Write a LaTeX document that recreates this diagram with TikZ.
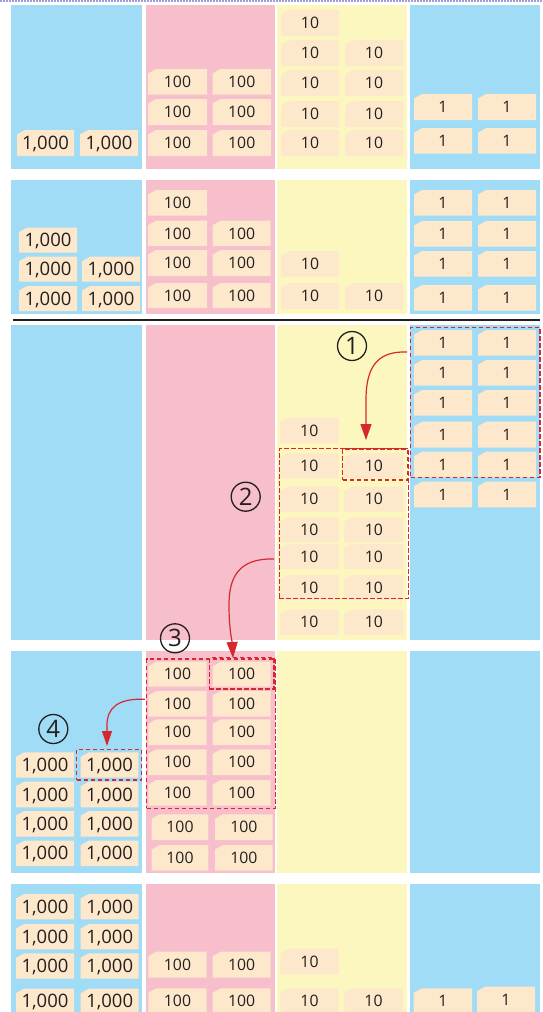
\documentclass[tikz,border=0pt]{standalone}
\usepackage{fontspec}
\setmainfont{Open Sans}
\usetikzlibrary{arrows.meta}
\definecolor{bluebg}{HTML}{A0DCF6}
\definecolor{pinkbg}{HTML}{F7BECC}
\definecolor{yellowbg}{HTML}{FCF7BE}
\definecolor{cardc}{HTML}{FDE8CC}
\definecolor{ink}{HTML}{231F20}
\definecolor{redc}{HTML}{D7282F}
\definecolor{lav}{HTML}{9E9EDB}
\tikzset{
  thfont/.style={font=\fontsize{18.5}{18.5}\selectfont, text height=13.2pt},
  smfont/.style={font=\fontsize{15.8}{15.8}\selectfont, text height=11.3pt},
  cardlabel/.style={inner sep=0pt, text depth=0pt, text=ink},
  selbox/.style={draw=redc, line width=1.2pt, dash pattern=on 4.5pt off 2.5pt, inner sep=0pt},
  carry/.style={draw=redc, line width=1.2pt, -{Triangle[length=16pt,width=11pt]}},
  circnum/.style={circle, draw=ink, line width=1.3pt, minimum size=29pt, inner sep=0pt, text=ink, font=\fontsize{24}{24}\selectfont},
  panelsep/.style={draw=ink, line width=2.5pt},
  topline/.style={draw=lav, line width=1.2pt, dash pattern=on 1.5pt off 1.5pt}
}
% #1 style, #2 name, #3 x1, #4 y1, #5 x2, #6 y2, #7 text
\newcommand\mycard[7][smfont]{%
  \fill[cardc] (#3,{#4+4.5}) -- ({#3+8},#4) -- (#5,#4) -- (#5,#6) -- (#3,#6) -- cycle;
  \node[cardlabel,#1] (#2) at ({(#3+#5)/2},{(#4+#6)/2}) {#7};
}
% column backgrounds: #1 top, #2 bottom
\newcommand\mypanel[2]{%
  \fill[bluebg] (11,#1) rectangle (142,#2);
  \fill[pinkbg] (145.7,#1) rectangle (275,#2);
  \fill[yellowbg] (277.3,#1) rectangle (406.8,#2);
  \fill[bluebg] (410,#1) rectangle (540,#2);
}
\begin{document}
\begin{tikzpicture}[x=1pt,y=-1pt]
\useasboundingbox (0,0) rectangle (543,1012);
\clip (0,0) rectangle (543,1012);
\fill[white] (0,0) rectangle (543,1012);
\draw[topline] (0,1) -- (543,1);

% ---------- panel 1 ----------
\mypanel{5}{169}
\mycard[thfont]{p1ta}{17}{130}{74}{156}{1,000}
\mycard[thfont]{p1tb}{80}{130}{138}{156}{1,000}
\mycard{p1h1}{148}{69}{207}{94.5}{100}
\mycard{p1h2}{212.5}{69}{271}{94.5}{100}
\mycard{p1h3}{148}{99}{207}{125}{100}
\mycard{p1h4}{212.5}{99}{271}{125}{100}
\mycard{p1h5}{148}{130}{207}{156}{100}
\mycard{p1h6}{212.5}{130}{271}{156}{100}
\mycard{p1d1}{281}{10}{339}{36}{10}
\mycard{p1d2}{281}{40}{339}{66}{10}
\mycard{p1d3}{345}{40}{403}{66}{10}
\mycard{p1d4}{281}{70}{339}{96}{10}
\mycard{p1d5}{345}{70}{403}{96}{10}
\mycard{p1d6}{281}{101}{339}{127}{10}
\mycard{p1d7}{345}{101}{403}{127}{10}
\mycard{p1d8}{281}{130}{339}{156}{10}
\mycard{p1d9}{345}{130}{403}{156}{10}
\mycard{p1o1}{414}{94}{472}{120}{1}
\mycard{p1o2}{478}{94}{536}{120}{1}
\mycard{p1o3}{414}{128}{472}{153.5}{1}
\mycard{p1o4}{478}{128}{536}{153.5}{1}

% ---------- panel 2 ----------
\mypanel{180}{314}
\mycard[thfont]{p2t1}{19}{227.5}{77}{252.5}{1,000}
\mycard[thfont]{p2t2}{19}{256.7}{77}{281.7}{1,000}
\mycard[thfont]{p2t3}{82}{256.7}{140}{281.7}{1,000}
\mycard[thfont]{p2t4}{19}{286}{77}{311}{1,000}
\mycard[thfont]{p2t5}{82}{286}{140}{311}{1,000}
\mycard{p2h1}{148}{190}{207}{215.7}{100}
\mycard{p2h2}{148}{220.7}{207}{246}{100}
\mycard{p2h3}{212.7}{220.7}{270.7}{246}{100}
\mycard{p2h4}{148}{250}{207}{276}{100}
\mycard{p2h5}{212.7}{250}{270.7}{276}{100}
\mycard{p2h6}{148}{283}{207}{308}{100}
\mycard{p2h7}{212.7}{283}{270.7}{308}{100}
\mycard{p2d1}{281}{251}{339}{276.7}{10}
\mycard{p2d2}{281}{283}{339}{309}{10}
\mycard{p2d3}{345}{283}{403}{309}{10}
\mycard{p2o1}{414}{190}{472}{215.7}{1}
\mycard{p2o2}{478}{190}{536}{215.7}{1}
\mycard{p2o3}{414}{221}{472}{246.7}{1}
\mycard{p2o4}{478}{221}{536}{246.7}{1}
\mycard{p2o5}{414}{251}{472}{276.7}{1}
\mycard{p2o6}{478}{251}{536}{276.7}{1}
\mycard{p2o7}{414}{285}{472}{310.7}{1}
\mycard{p2o8}{478}{285}{536}{310.7}{1}

\coordinate (sepL) at (13,320);
\coordinate (sepR) at (539.5,320);
\draw[panelsep] (sepL) -- (sepR);

% ---------- panel 3 ----------
\mypanel{325}{640}
\mycard{p3d1}{280}{417.7}{338.5}{443.3}{10}
\mycard{p3d2}{280}{453.3}{338.5}{478.3}{10}
\mycard{p3d3}{344.3}{453.3}{403.3}{478.3}{10}
\mycard{p3d4}{280}{486.7}{338.5}{511.7}{10}
\mycard{p3d5}{344.3}{486.7}{403.3}{511.7}{10}
\mycard{p3d6}{280}{517.3}{338.5}{542.3}{10}
\mycard{p3d7}{344.3}{517.3}{403.3}{542.3}{10}
\mycard{p3d8}{280}{544}{338.5}{569}{10}
\mycard{p3d9}{344.3}{544}{403.3}{569}{10}
\mycard{p3d10}{280}{575}{338.5}{600}{10}
\mycard{p3d11}{344.3}{575}{403.3}{600}{10}
\mycard{p3d12}{280}{609.3}{338.5}{635}{10}
\mycard{p3d13}{344.3}{609.3}{403.3}{635}{10}
\mycard{p3o1}{414}{330}{472}{355.7}{1}
\mycard{p3o2}{478}{330}{536}{355.7}{1}
\mycard{p3o3}{414}{360}{472}{385.7}{1}
\mycard{p3o4}{478}{360}{536}{385.7}{1}
\mycard{p3o5}{414}{390}{472}{415.7}{1}
\mycard{p3o6}{478}{390}{536}{415.7}{1}
\mycard{p3o7}{414}{421.7}{472}{447.7}{1}
\mycard{p3o8}{478}{421.7}{536}{447.7}{1}
\mycard{p3o9}{414}{451.7}{472}{477.3}{1}
\mycard{p3o10}{478}{451.7}{536}{477.3}{1}
\mycard{p3o11}{414}{481.7}{472}{507.3}{1}
\mycard{p3o12}{478}{481.7}{536}{507.3}{1}

\node[selbox, minimum width=129.3pt, minimum height=150pt] (box1) at (475.35,402.3) {};
\node[selbox, minimum width=65pt, minimum height=31pt] (tbox) at (375.2,464.5) {};
\node[selbox, minimum width=129pt, minimum height=150.2pt] (box2) at (343.8,523.4) {};

\node[circnum] (c1) at (352,346) {1};
\node[circnum] (c2) at (245.7,496.7) {2};

% ---------- panel 4 ----------
\mypanel{651}{872.5}
\mycard[thfont]{p4t1}{16}{752.3}{74}{777.7}{1,000}
\mycard[thfont]{p4t2}{80.7}{752.3}{138.3}{777.7}{1,000}
\mycard[thfont]{p4t3}{16}{781.7}{74}{807.3}{1,000}
\mycard[thfont]{p4t4}{80.7}{781.7}{138.3}{807.3}{1,000}
\mycard[thfont]{p4t5}{16}{811}{74}{836.7}{1,000}
\mycard[thfont]{p4t6}{80.7}{811}{138.3}{836.7}{1,000}
\mycard[thfont]{p4t7}{16}{840.7}{74}{866}{1,000}
\mycard[thfont]{p4t8}{80.7}{840.7}{138.3}{866}{1,000}
\mycard{p4h1}{148.3}{661.7}{206.7}{686.7}{100}
\mycard{p4h2}{212.7}{661.7}{270.7}{686.7}{100}
\mycard{p4h3}{148.3}{691}{206.7}{716.7}{100}
\mycard{p4h4}{212.7}{691}{270.7}{716.7}{100}
\mycard{p4h5}{148.3}{719.3}{206.7}{745}{100}
\mycard{p4h6}{212.7}{719.3}{270.7}{745}{100}
\mycard{p4h7}{148.3}{749.3}{206.7}{775}{100}
\mycard{p4h8}{212.7}{749.3}{270.7}{775}{100}
\mycard{p4h9}{148.3}{780}{206.7}{805.7}{100}
\mycard{p4h10}{212.7}{780}{270.7}{805.7}{100}
\mycard{p4h11}{151.7}{814.3}{208.3}{840}{100}
\mycard{p4h12}{215}{814.3}{272.7}{840}{100}
\mycard{p4h13}{151.7}{845}{208.3}{870.7}{100}
\mycard{p4h14}{215}{845}{272.7}{870.7}{100}

\node[selbox, minimum width=128.6pt, minimum height=149.3pt] (box3) at (211,733.65) {};
\node[selbox, minimum width=64.7pt, minimum height=31.3pt] (hbox) at (241.65,673.35) {};
\node[selbox, minimum width=65pt, minimum height=30.7pt] (kbox) at (109.2,764.65) {};

\node[circnum] (c3) at (175,638.3) {3};
\node[circnum] (c4) at (53.3,729) {4};

% ---------- panel 5 ----------
\mypanel{883.5}{1012}
\mycard[thfont]{p5t1}{16}{894}{74}{919.3}{1,000}
\mycard[thfont]{p5t2}{80.7}{894}{138.7}{919.3}{1,000}
\mycard[thfont]{p5t3}{16}{924}{74}{949.3}{1,000}
\mycard[thfont]{p5t4}{80.7}{924}{138.7}{949.3}{1,000}
\mycard[thfont]{p5t5}{16}{953.3}{74}{978.7}{1,000}
\mycard[thfont]{p5t6}{80.7}{953.3}{138.7}{978.7}{1,000}
\mycard[thfont]{p5t7}{16}{988.7}{74}{1014}{1,000}
\mycard[thfont]{p5t8}{80.7}{988.7}{138.7}{1014}{1,000}
\mycard{p5h1}{148.3}{951.7}{206.7}{977.7}{100}
\mycard{p5h2}{212.7}{951.7}{270.7}{977.7}{100}
\mycard{p5h3}{148.3}{988.3}{206.7}{1014}{100}
\mycard{p5h4}{212.7}{988.3}{270.7}{1014}{100}
\mycard{p5d1}{280.3}{948.7}{338.7}{974.3}{10}
\mycard{p5d2}{280.3}{988.3}{338.7}{1014}{10}
\mycard{p5d3}{344.3}{988.3}{402.7}{1014}{10}
\mycard{p5o1}{413.7}{988.3}{472}{1014}{1}
\mycard{p5o2}{477}{986.7}{535}{1012.4}{1}

% ---------- carry arrows ----------
\coordinate (a1s) at (407,352);
\coordinate (a1e) at (366,440);
\draw[carry] (a1s) .. controls (378,351) and (366,366) .. (366,400) -- (a1e);
\coordinate (a2s) at (274,559);
\coordinate (a2e) at (233,658);
\draw[carry] (a2s) .. controls (238,558) and (229,578) .. (229,605) .. controls (229,630) and (232,640) .. (a2e);
\coordinate (a4s) at (145,699.3);
\coordinate (a4e) at (107,746);
\draw[carry,-{Triangle[length=15pt,width=10pt]}] (a4s) .. controls (118,698) and (107,708) .. (107,725) -- (a4e);
\end{tikzpicture}
\end{document}
